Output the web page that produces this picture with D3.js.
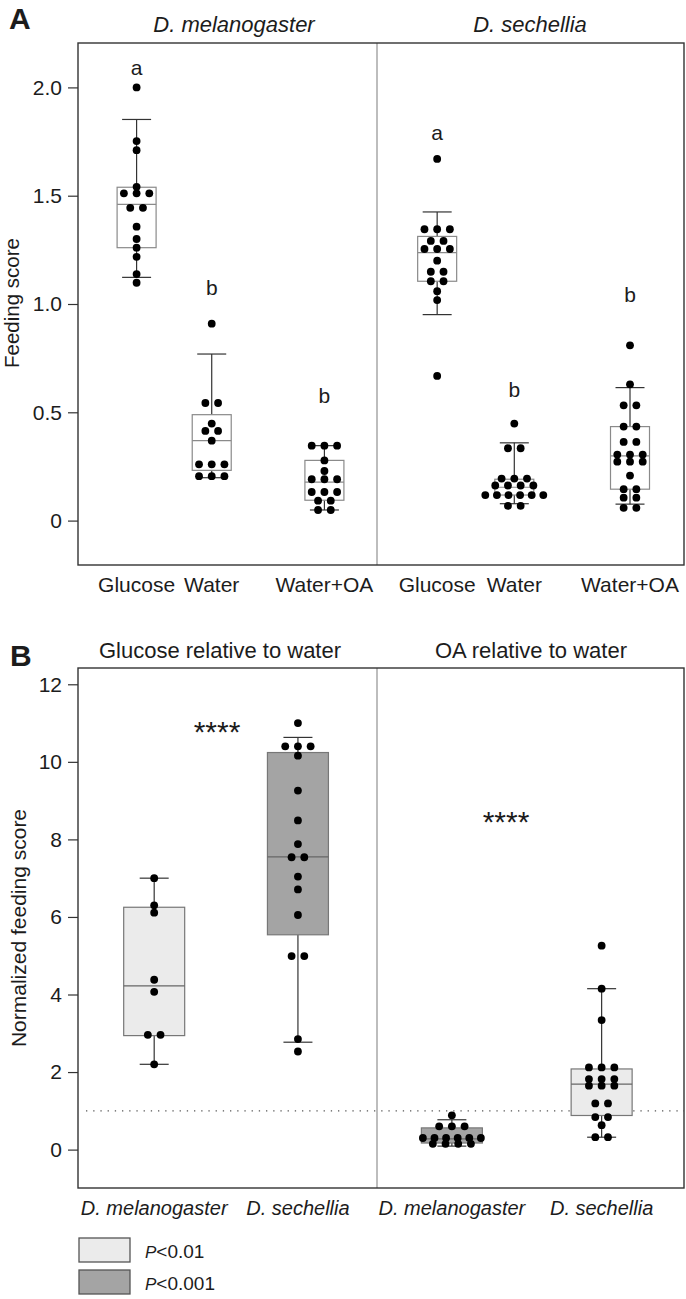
<!DOCTYPE html>
<html><head><meta charset="utf-8">
<script src="https://cdn.jsdelivr.net/npm/d3@7"></script>
<style>
body{margin:0;background:#fff}
svg{display:block}
text{font-family:"Liberation Sans",Arial,sans-serif;fill:#1c1c1c}
</style>
</head><body>
<svg id="chart" width="686" height="1299"></svg>
<script>
// ================= DATA : panel A (feeding score) =================
const speciesA = ["D. melanogaster", "D. sechellia"];
const treatmentsA = ["Glucose", "Water", "Water+OA"];
const lettersMel = ["a", "b", "b"];
const lettersSec = ["a", "b", "b"];
const letterValuesMel = [2.057, 1.041, 0.542];
const letterValuesSec = [1.757, 0.572, 1.011];
const ticksA = [0, 0.5, 1.0, 1.5, 2.0];
const tickLabelsA = ["0", "0.5", "1.0", "1.5", "2.0"];
const yLabelA = "Feeding score";

const melGlucose = [2.0, 1.752, 1.71, 1.541, 1.511, 1.511, 1.511, 1.444, 1.444, 1.357, 1.30, 1.26, 1.218, 1.138, 1.098];
const melWater = [0.909, 0.543, 0.543, 0.448, 0.414, 0.414, 0.369, 0.26, 0.26, 0.26, 0.205, 0.205, 0.205];
const melWaterOA = [0.346, 0.346, 0.346, 0.278, 0.229, 0.191, 0.191, 0.191, 0.132, 0.132, 0.132, 0.092, 0.092, 0.049, 0.049];
const secGlucose = [1.670, 1.345, 1.345, 1.345, 1.291, 1.291, 1.254, 1.254, 1.254, 1.2, 1.149, 1.149, 1.105, 1.105, 1.059, 1.018, 0.668];
const secWater = [0.448, 0.334, 0.334, 0.194, 0.194, 0.194, 0.162, 0.162, 0.162, 0.162, 0.118, 0.118, 0.118, 0.118, 0.118, 0.118, 0.068, 0.068];
const secWaterOA = [0.809, 0.629, 0.532, 0.532, 0.434, 0.434, 0.363, 0.363, 0.305, 0.305, 0.305, 0.272, 0.272, 0.272, 0.208, 0.145, 0.145, 0.106, 0.106, 0.059, 0.059];

// box statistics: [lower whisker, Q1, median, Q3, upper whisker]
const statsMelGlucose = [1.123, 1.26, 1.46, 1.539, 1.852];
const statsMelWater = [0.198, 0.232, 0.369, 0.489, 0.769];
const statsMelWaterOA = [0.049, 0.094, 0.178, 0.278, 0.346];
const statsSecGlucose = [0.951, 1.105, 1.237, 1.312, 1.425];
const statsSecWater = [0.078, 0.118, 0.154, 0.191, 0.359];
const statsSecWaterOA = [0.076, 0.145, 0.299, 0.434, 0.614];

// ================= DATA : panel B (normalized feeding score) =================
const titlesB = ["Glucose relative to water", "OA relative to water"];
const speciesB = ["D. melanogaster", "D. sechellia"];
const ticksB = [0, 2, 4, 6, 8, 10, 12];
const tickLabelsB = ["0", "2", "4", "6", "8", "10", "12"];
const yLabelB = "Normalized feeding score";
const referenceValueB = 1;
const starsB = ["****", "****"];
const starValuesB = [10.5, 8.19];

const melGlucoseRel = [7.0, 6.30, 6.11, 4.38, 4.07, 2.96, 2.96, 2.20];
const secGlucoseRel = [11.0, 10.40, 10.40, 10.40, 10.16, 9.26, 8.49, 7.88, 7.54, 7.54, 7.04, 6.71, 6.05, 4.99, 4.99, 2.85, 2.53];
const melOARel = [0.884, 0.60, 0.60, 0.60, 0.30, 0.30, 0.30, 0.30, 0.30, 0.30, 0.15, 0.15, 0.15, 0.15];
const secOARel = [5.26, 4.15, 3.34, 2.12, 2.12, 2.12, 1.82, 1.82, 1.82, 1.65, 1.65, 1.65, 1.19, 1.19, 0.84, 0.84, 0.63, 0.32, 0.32];

const statsMelGlucoseRel = [2.20, 2.94, 4.22, 6.25, 7.0];
const statsSecGlucoseRel = [2.77, 5.54, 7.55, 10.24, 10.63];
const statsMelOARel = [0.09, 0.17, 0.275, 0.56, 0.77];
const statsSecOARel = [0.32, 0.88, 1.69, 2.08, 4.15];

// significance class of each box (index into legendLabels)
const sigGlucose = [0, 1];
const sigOA = [1, 0];
const legendLabels = [["P", "<0.01"], ["P", "<0.001"]];

// ================= LAYOUT / STYLE =================
const svg = d3.select("#chart");
const C = { frame: "#333", divider: "#9a9a9a", boxStroke: "#8a8a8a", whisker: "#333", dot: "#000",
            light: "#ebebeb", dark: "#a4a4a4", boxStrokeB: "#777" };
const fills = [C.light, C.dark];
const L = { left: 78, mid: 377, right: 684 };
const dotR = 3.9, dotGap = 12.7, rowMax = 58, capHalf = 14.5;

function swarm(values, cx, y) {
  const counts = d3.rollup(values, v => v.length, d => d);
  const seen = new Map();
  return values.map(v => {
    const n = counts.get(v);
    const i = seen.get(v) || 0; seen.set(v, i + 1);
    const sp = n > 1 ? Math.min(dotGap, rowMax / (n - 1)) : 0;
    return { x: cx + (i - (n - 1) / 2) * sp, y: y(v) };
  });
}

function drawBox(g, cx, bw, y, s, fill, stroke, medStroke) {
  const [lo, q1, med, q3, hi] = s;
  g.append("line").attr("x1", cx).attr("x2", cx).attr("y1", y(lo)).attr("y2", y(q1))
    .attr("stroke", C.whisker).attr("stroke-width", 1.2);
  g.append("line").attr("x1", cx).attr("x2", cx).attr("y1", y(q3)).attr("y2", y(hi))
    .attr("stroke", C.whisker).attr("stroke-width", 1.2);
  [lo, hi].forEach(v => g.append("line").attr("x1", cx - capHalf).attr("x2", cx + capHalf)
    .attr("y1", y(v)).attr("y2", y(v)).attr("stroke", C.whisker).attr("stroke-width", 1.2));
  g.append("rect").attr("x", cx - bw / 2).attr("y", y(q3)).attr("width", bw).attr("height", y(q1) - y(q3))
    .attr("fill", fill).attr("stroke", stroke).attr("stroke-width", 1.2);
  g.append("line").attr("x1", cx - bw / 2).attr("x2", cx + bw / 2).attr("y1", y(med)).attr("y2", y(med))
    .attr("stroke", medStroke).attr("stroke-width", 1.2);
}

function drawDots(g, values, cx, y) {
  g.selectAll(null).data(swarm(values, cx, y)).enter().append("circle")
    .attr("cx", d => d.x).attr("cy", d => d.y).attr("r", dotR).attr("fill", C.dot);
}

function drawFrame(top, bottom, y, ticks, labels) {
  svg.append("line").attr("x1", L.mid).attr("x2", L.mid).attr("y1", top).attr("y2", bottom)
    .attr("stroke", C.divider).attr("stroke-width", 1.3);
  svg.append("rect").attr("x", L.left).attr("y", top).attr("width", L.right - L.left).attr("height", bottom - top)
    .attr("fill", "none").attr("stroke", C.frame).attr("stroke-width", 1.4);
  const ax = svg.append("g").attr("transform", `translate(${L.left},0)`)
    .call(d3.axisLeft(y).tickValues(ticks).tickFormat((d, i) => labels[i]).tickSize(10).tickPadding(6));
  ax.select(".domain").remove();
  ax.selectAll(".tick line").attr("stroke", C.frame).attr("stroke-width", 1.2);
  ax.selectAll(".tick text").attr("font-size", 21).attr("fill", "#1c1c1c")
    .style("font-family", '"Liberation Sans", Arial, sans-serif');
}

// ================= PANEL A =================
{
  const top = 43, bottom = 565;
  const y = d3.scaleLinear().domain([-0.205, 2.205]).range([bottom, top]);
  drawFrame(top, bottom, y, ticksA, tickLabelsA);
  const posA = [1, 2, 3.5];
  const xs = [
    d3.scaleLinear().domain([0.22, 4.2]).range([L.left, L.mid]),
    d3.scaleLinear().domain([0.22, 4.2]).range([L.mid, L.right])
  ];
  const groups = [[melGlucose, melWater, melWaterOA], [secGlucose, secWater, secWaterOA]];
  const stats = [[statsMelGlucose, statsMelWater, statsMelWaterOA], [statsSecGlucose, statsSecWater, statsSecWaterOA]];
  const letters = [lettersMel, lettersSec];
  const letterVals = [letterValuesMel, letterValuesSec];
  const titleX = [234, 530];
  const g = svg.append("g");
  speciesA.forEach((sp, p) => {
    g.append("text").attr("x", titleX[p]).attr("y", 32).attr("text-anchor", "middle")
      .attr("font-size", 22).attr("font-style", "italic").text(sp);
    treatmentsA.forEach((t, i) => {
      const cx = xs[p](posA[i]);
      drawBox(g, cx, 39, y, stats[p][i], "#fff", C.boxStroke, C.boxStroke);
      drawDots(g, groups[p][i], cx, y);
      g.append("text").attr("x", cx).attr("y", y(letterVals[p][i])).attr("text-anchor", "middle")
        .attr("font-size", 21).text(letters[p][i]);
      g.append("text").attr("x", cx).attr("y", 592).attr("text-anchor", "middle")
        .attr("font-size", 21).text(t);
    });
  });
  svg.append("text").attr("transform", "translate(19,303) rotate(-90)").attr("text-anchor", "middle")
    .attr("font-size", 20.5).text(yLabelA);
  svg.append("text").attr("x", 9).attr("y", 29).attr("font-size", 30).attr("font-weight", "bold").text("A");
}

// ================= PANEL B =================
{
  const top = 668, bottom = 1188;
  const y = d3.scaleLinear().domain([-0.99, 12.42]).range([bottom, top]);
  // dotted reference line
  svg.append("line").attr("x1", 86).attr("x2", L.right).attr("y1", y(referenceValueB)).attr("y2", y(referenceValueB))
    .attr("stroke", "#555").attr("stroke-width", 1.2).attr("stroke-dasharray", "1.3 5.9");
  drawFrame(top, bottom, y, ticksB, tickLabelsB);
  const xs = [
    d3.scaleLinear().domain([0.47, 2.55]).range([L.left, L.mid]),
    d3.scaleLinear().domain([0.5, 2.55]).range([L.mid, L.right])
  ];
  const groups = [[melGlucoseRel, secGlucoseRel], [melOARel, secOARel]];
  const stats = [[statsMelGlucoseRel, statsSecGlucoseRel], [statsMelOARel, statsSecOARel]];
  const sig = [sigGlucose, sigOA];
  const titleX = [220, 531];
  const starX = [217, 506];
  const g = svg.append("g");
  titlesB.forEach((title, p) => {
    g.append("text").attr("x", titleX[p]).attr("y", 658).attr("text-anchor", "middle")
      .attr("font-size", 22).text(title);
    g.append("text").attr("x", starX[p]).attr("y", y(starValuesB[p])).attr("text-anchor", "middle")
      .attr("font-size", 30).attr("fill", "#333").text(starsB[p]);
    speciesB.forEach((sp, i) => {
      const cx = xs[p](i + 1);
      drawBox(g, cx, 61, y, stats[p][i], fills[sig[p][i]], C.boxStrokeB, "#666");
      drawDots(g, groups[p][i], cx, y);
      g.append("text").attr("x", cx).attr("y", 1215).attr("text-anchor", "middle")
        .attr("font-size", 20).attr("font-style", "italic").text(sp);
    });
  });
  svg.append("text").attr("transform", "translate(26,928) rotate(-90)").attr("text-anchor", "middle")
    .attr("font-size", 21).text(yLabelB);
  svg.append("text").attr("x", 10).attr("y", 666).attr("font-size", 30).attr("font-weight", "bold").text("B");

  // legend
  const lg = svg.append("g");
  legendLabels.forEach((lab, i) => {
    const yy = 1238 + i * 32;
    lg.append("rect").attr("x", 79).attr("y", yy).attr("width", 51).attr("height", 24)
      .attr("fill", fills[i]).attr("stroke", "#555").attr("stroke-width", 1.3);
    const t = lg.append("text").attr("x", 145).attr("y", yy + 20).attr("font-size", 19);
    t.append("tspan").attr("font-style", "italic").attr("font-size", 17).text(lab[0]);
    t.append("tspan").text(lab[1]);
  });
}
</script>
</body></html>
